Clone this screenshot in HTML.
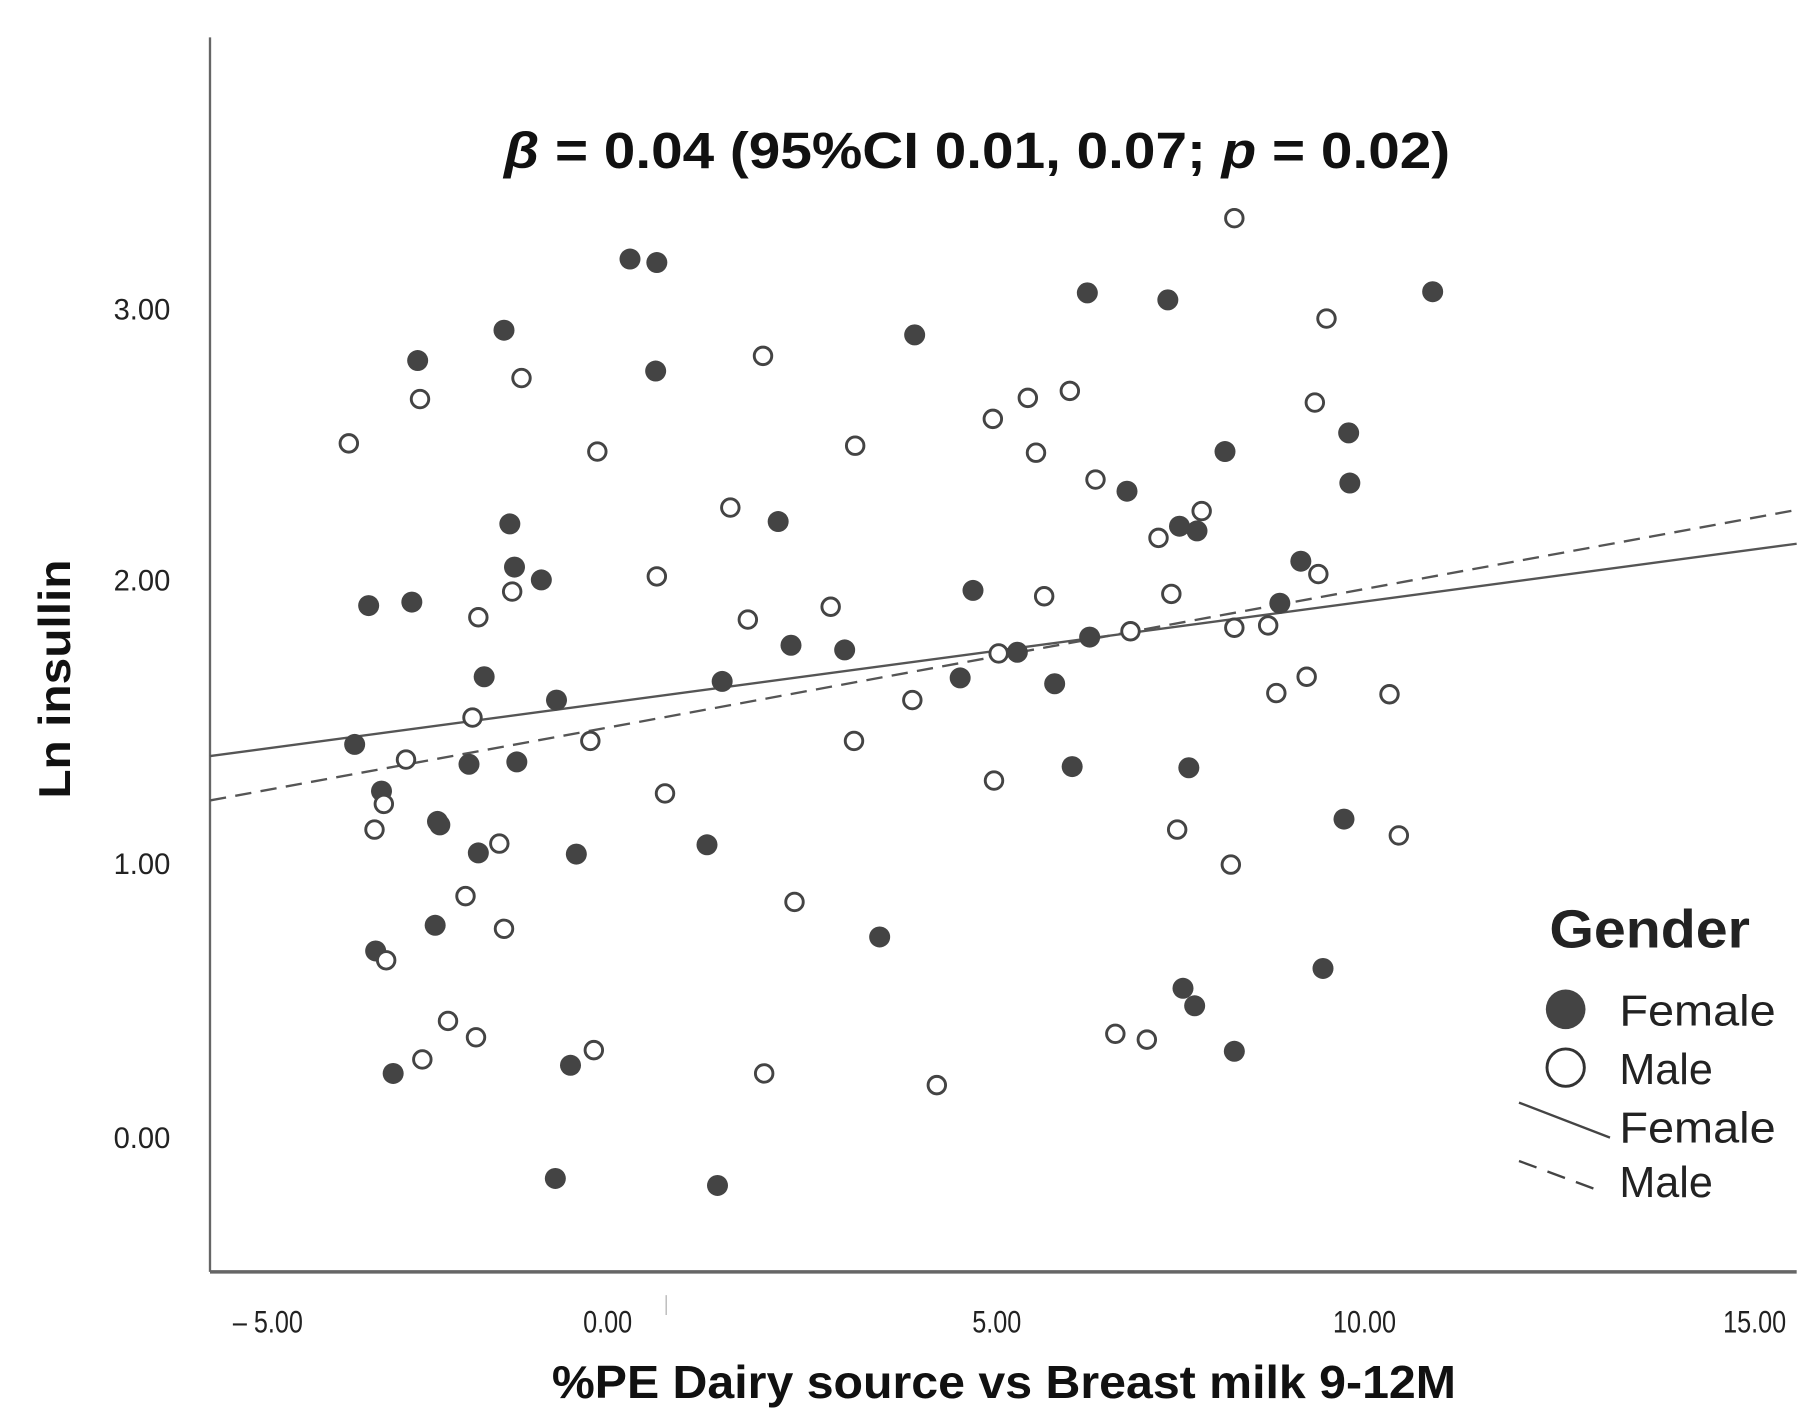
<!DOCTYPE html>
<html><head><meta charset="utf-8"><style>html,body{margin:0;padding:0;background:#fff}svg{display:block}</style></head><body>
<svg width="1820" height="1427" viewBox="0 0 1560 1223" preserveAspectRatio="none" xmlns="http://www.w3.org/2000/svg" font-family="Liberation Sans, sans-serif">
<rect width="1560" height="1223" fill="#fff"/>
<line x1="180" y1="32" x2="180" y2="1090" stroke="#666" stroke-width="2"/>
<line x1="180" y1="1090" x2="1540" y2="1090" stroke="#666" stroke-width="3"/>
<line x1="571" y1="1110" x2="571" y2="1127" stroke="#aaa" stroke-width="1"/>
<g font-size="25" fill="#222" text-anchor="end">
<text x="146" y="274">3.00</text><text x="146" y="506">2.00</text><text x="146" y="749">1.00</text><text x="146" y="984">0.00</text>
</g>
<g font-size="27" fill="#222" text-anchor="middle" transform="scale(0.8,1)">
<text x="287" y="1142">– 5.00</text><text x="651" y="1142">0.00</text><text x="1068" y="1142">5.00</text><text x="1462" y="1142">10.00</text><text x="1880" y="1142">15.00</text>
</g>
<text x="432" y="144" font-size="44" font-weight="bold" fill="#111" textLength="811" lengthAdjust="spacingAndGlyphs"><tspan font-style="italic">β</tspan> = 0.04 (95%CI 0.01, 0.07; <tspan font-style="italic">p</tspan> = 0.02)</text>
<text transform="translate(60,582) rotate(-90)" font-size="38" font-weight="bold" text-anchor="middle" fill="#111" textLength="205" lengthAdjust="spacingAndGlyphs">Ln insullin</text>
<text x="473" y="1198" font-size="40" font-weight="bold" fill="#111" textLength="775" lengthAdjust="spacingAndGlyphs">%PE Dairy source vs Breast milk 9-12M</text>
<line x1="180" y1="648" x2="1540" y2="466" stroke="#555" stroke-width="2"/>
<line x1="180" y1="686" x2="1540" y2="437" stroke="#555" stroke-width="2" stroke-dasharray="14,8"/>
<g fill="#444">
<circle cx="540" cy="222" r="9"/><circle cx="563" cy="225" r="9"/><circle cx="432" cy="283" r="9"/><circle cx="358" cy="309" r="9"/><circle cx="562" cy="318" r="9"/><circle cx="784" cy="287" r="9"/><circle cx="932" cy="251" r="9"/><circle cx="1001" cy="257" r="9"/><circle cx="1228" cy="250" r="9"/><circle cx="1156" cy="371" r="9"/><circle cx="1157" cy="414" r="9"/><circle cx="1050" cy="387" r="9"/><circle cx="966" cy="421" r="9"/><circle cx="1011" cy="451" r="9"/><circle cx="1026" cy="455" r="9"/><circle cx="437" cy="449" r="9"/><circle cx="667" cy="447" r="9"/><circle cx="441" cy="486" r="9"/><circle cx="464" cy="497" r="9"/><circle cx="316" cy="519" r="9"/><circle cx="353" cy="516" r="9"/><circle cx="1115" cy="481" r="9"/><circle cx="834" cy="506" r="9"/><circle cx="1097" cy="517" r="9"/><circle cx="415" cy="580" r="9"/><circle cx="678" cy="553" r="9"/><circle cx="724" cy="557" r="9"/><circle cx="934" cy="546" r="9"/><circle cx="872" cy="559" r="9"/><circle cx="823" cy="581" r="9"/><circle cx="904" cy="586" r="9"/><circle cx="619" cy="584" r="9"/><circle cx="477" cy="600" r="9"/><circle cx="304" cy="638" r="9"/><circle cx="402" cy="655" r="9"/><circle cx="443" cy="653" r="9"/><circle cx="327" cy="678" r="9"/><circle cx="375" cy="704" r="9"/><circle cx="377" cy="707" r="9"/><circle cx="410" cy="731" r="9"/><circle cx="494" cy="732" r="9"/><circle cx="606" cy="724" r="9"/><circle cx="919" cy="657" r="9"/><circle cx="1019" cy="658" r="9"/><circle cx="1152" cy="702" r="9"/><circle cx="373" cy="793" r="9"/><circle cx="322" cy="815" r="9"/><circle cx="754" cy="803" r="9"/><circle cx="1134" cy="830" r="9"/><circle cx="1014" cy="847" r="9"/><circle cx="1024" cy="862" r="9"/><circle cx="1058" cy="901" r="9"/><circle cx="337" cy="920" r="9"/><circle cx="489" cy="913" r="9"/><circle cx="476" cy="1010" r="9"/><circle cx="615" cy="1016" r="9"/>
</g>
<g fill="#fff" stroke="#444" stroke-width="2.5">
<circle cx="1058" cy="187" r="7.5"/><circle cx="1137" cy="273" r="7.5"/><circle cx="654" cy="305" r="7.5"/><circle cx="447" cy="324" r="7.5"/><circle cx="360" cy="342" r="7.5"/><circle cx="917" cy="335" r="7.5"/><circle cx="881" cy="341" r="7.5"/><circle cx="1127" cy="345" r="7.5"/><circle cx="851" cy="359" r="7.5"/><circle cx="299" cy="380" r="7.5"/><circle cx="512" cy="387" r="7.5"/><circle cx="733" cy="382" r="7.5"/><circle cx="888" cy="388" r="7.5"/><circle cx="939" cy="411" r="7.5"/><circle cx="626" cy="435" r="7.5"/><circle cx="1030" cy="438" r="7.5"/><circle cx="993" cy="461" r="7.5"/><circle cx="563" cy="494" r="7.5"/><circle cx="1130" cy="492" r="7.5"/><circle cx="439" cy="507" r="7.5"/><circle cx="895" cy="511" r="7.5"/><circle cx="1004" cy="509" r="7.5"/><circle cx="712" cy="520" r="7.5"/><circle cx="641" cy="531" r="7.5"/><circle cx="410" cy="529" r="7.5"/><circle cx="969" cy="541" r="7.5"/><circle cx="1058" cy="538" r="7.5"/><circle cx="1087" cy="536" r="7.5"/><circle cx="856" cy="560" r="7.5"/><circle cx="1120" cy="580" r="7.5"/><circle cx="1094" cy="594" r="7.5"/><circle cx="782" cy="600" r="7.5"/><circle cx="1191" cy="595" r="7.5"/><circle cx="405" cy="615" r="7.5"/><circle cx="506" cy="635" r="7.5"/><circle cx="348" cy="651" r="7.5"/><circle cx="732" cy="635" r="7.5"/><circle cx="852" cy="669" r="7.5"/><circle cx="570" cy="680" r="7.5"/><circle cx="329" cy="689" r="7.5"/><circle cx="321" cy="711" r="7.5"/><circle cx="428" cy="723" r="7.5"/><circle cx="1009" cy="711" r="7.5"/><circle cx="1199" cy="716" r="7.5"/><circle cx="1055" cy="741" r="7.5"/><circle cx="399" cy="768" r="7.5"/><circle cx="681" cy="773" r="7.5"/><circle cx="432" cy="796" r="7.5"/><circle cx="331" cy="823" r="7.5"/><circle cx="384" cy="875" r="7.5"/><circle cx="408" cy="889" r="7.5"/><circle cx="362" cy="908" r="7.5"/><circle cx="509" cy="900" r="7.5"/><circle cx="655" cy="920" r="7.5"/><circle cx="803" cy="930" r="7.5"/><circle cx="956" cy="886" r="7.5"/><circle cx="983" cy="891" r="7.5"/>
</g>
<text x="1328" y="812" font-size="46" font-weight="bold" fill="#222" textLength="172" lengthAdjust="spacingAndGlyphs">Gender</text>
<circle cx="1342" cy="865" r="17" fill="#444"/>
<circle cx="1342" cy="915" r="16" fill="#fff" stroke="#333" stroke-width="2.5"/>
<line x1="1302" y1="945" x2="1380" y2="975" stroke="#444" stroke-width="2"/>
<line x1="1302" y1="995" x2="1375" y2="1022" stroke="#444" stroke-width="2" stroke-dasharray="16,10"/>
<g font-size="37" fill="#222">
<text x="1388" y="879" textLength="134" lengthAdjust="spacingAndGlyphs">Female</text><text x="1388" y="929">Male</text><text x="1388" y="979" textLength="134" lengthAdjust="spacingAndGlyphs">Female</text><text x="1388" y="1026">Male</text>
</g>
</svg>
</body></html>
